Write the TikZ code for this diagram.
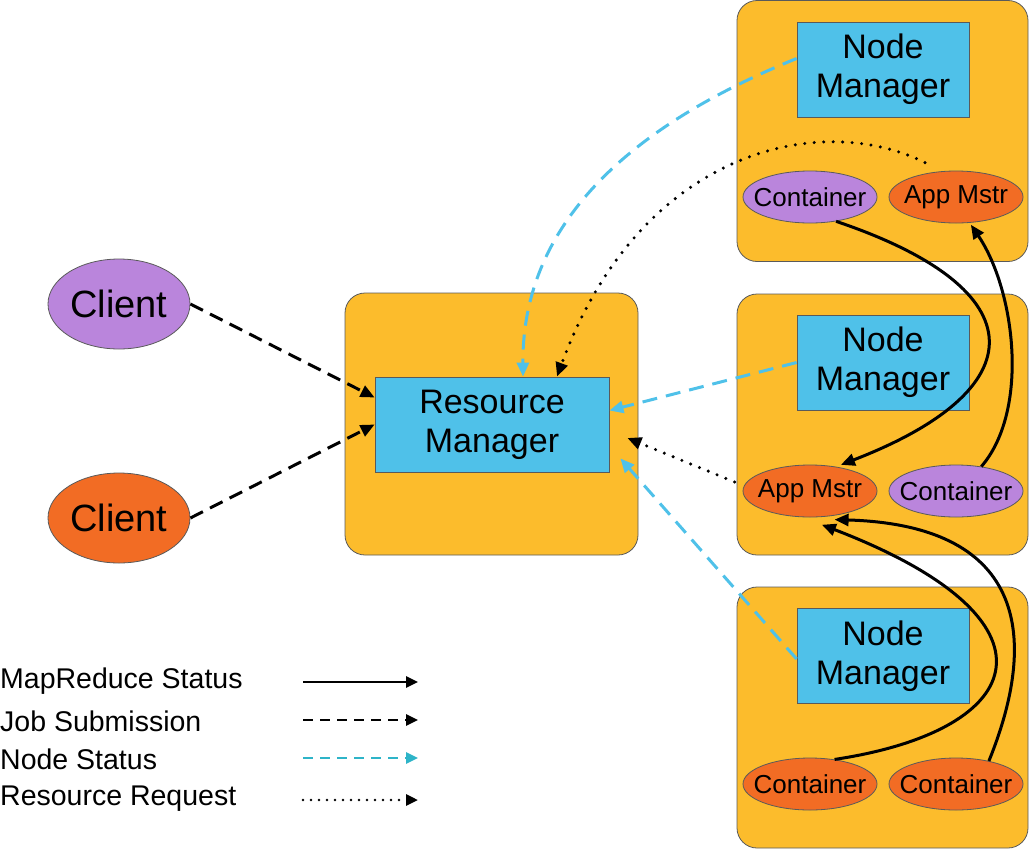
\documentclass[tikz,border=0pt]{standalone}
\usepackage{fontspec}
\setmainfont{Liberation Sans}
\usetikzlibrary{shapes.geometric,arrows.meta,calc}
\definecolor{boxor}{HTML}{FCBC2C}
\definecolor{nmblue}{HTML}{4FC1E9}
\definecolor{purp}{HTML}{BA85DC}
\definecolor{orell}{HTML}{F26C24}
\definecolor{cyanline}{HTML}{4FC1E9}
\definecolor{legcyan}{HTML}{2EB4C8}
\definecolor{edge}{HTML}{5A5A5A}
\tikzset{
  hostbox/.style={draw=edge, line width=0.8pt, fill=boxor, rounded corners=20pt, minimum width=291pt, minimum height=261pt, inner sep=0pt},
  mgrbox/.style={draw=edge, line width=0.8pt, fill=nmblue, minimum width=172pt, minimum height=95pt, inner sep=0pt, align=center, font=\fontsize{34}{39}\selectfont},
  cell/.style={ellipse, draw=edge, line width=0.8pt, minimum width=134pt, minimum height=52pt, inner sep=0pt, font=\fontsize{26}{30}\selectfont},
  clientell/.style={ellipse, draw=edge, line width=0.8pt, minimum width=142pt, minimum height=90pt, inner sep=0pt, font=\fontsize{38}{44}\selectfont},
  tip/.style={-{Triangle[length=14pt,width=12pt]}},
  ltip/.style={-{Triangle[length=12pt,width=11pt]}},
  mrline/.style={tip, line width=3pt, black},
  jobline/.style={tip, line width=3pt, black, dash pattern=on 14pt off 8pt},
  nsline/.style={tip, line width=3pt, cyanline, dash pattern=on 15pt off 9pt},
  rrline/.style={tip, line width=3.4pt, black, line cap=round, dash pattern=on 0pt off 9.5pt},
  legtext/.style={anchor=west, inner sep=0pt, font=\fontsize{28.5}{32}\selectfont},
}
\begin{document}
\begin{tikzpicture}[x=1pt,y=-1pt]
\useasboundingbox (0,0) rectangle (1030,849);
% host boxes
\node[hostbox] (nbox1) at (882.5,131) {};
\node[hostbox] (nbox2) at (882.5,424.5) {};
\node[hostbox] (nbox3) at (882.5,717.5) {};
\node[hostbox, minimum width=293pt, minimum height=262pt] (rmbox) at (491.5,424) {};
% managers
\node[mgrbox] (nm1) at (883,69.5) {Node\\Manager};
\node[mgrbox] (nm2) at (883,362.5) {Node\\Manager};
\node[mgrbox] (nm3) at (883,656) {Node\\Manager};
\node[mgrbox, minimum width=234pt] (rm) at (492,424.5) {Resource\\Manager};
% containers / app masters
\node[cell, fill=purp] (c1a) at (810,197) {\makebox[0pt]{Container}};
\node[cell, fill=orell] (am1) at (956,197) {\makebox[0pt]{App Mstr}};
\node[cell, fill=orell] (am2) at (810,491) {\makebox[0pt]{App Mstr}};
\node[cell, fill=purp] (c2) at (956,491) {\makebox[0pt]{Container}};
\node[cell, fill=orell] (c3a) at (810,784) {\makebox[0pt]{Container}};
\node[cell, fill=orell] (c3b) at (956,784) {\makebox[0pt]{Container}};
% clients
\node[clientell, fill=purp] (cl1) at (119,304) {\makebox[0pt]{Client}};
\node[clientell, fill=orell] (cl2) at (119,518) {\makebox[0pt]{Client}};
% job submission
\draw[jobline] (cl1.east) -- ($(rm.west)+(0,-27)$);
\draw[jobline] (cl2.east) -- (rm.west);
% node status
\draw[nsline] ($(nm1.west)+(0,-11)$) .. controls (620,130) and (522,230) .. ($(rm.north)+(31,0)$);
\draw[nsline] (nm2.west) -- ($(rm.east)+(0,-14)$);
\draw[nsline] ($(nm3.west)+(0,3)$) -- ($(rm.south east)+(11,-14)$);
% resource requests
\draw[rrline] ($(am1.north)+(-31,-8)$) .. controls (820,110) and (640,150) .. ($(rm.north)+(65,0)$);
\draw[rrline] ($(am2.west)+(-8,-9)$) -- ($(rm.east)+(18,13.5)$);
% mapreduce status
\draw[mrline] (c1a.-43) .. controls (1040,290) and (1035,390) .. ($(am2.42)+(4,-2)$);
\draw[mrline] (c2.44) .. controls (1030,410) and (1015,290) .. ($(am1.-60)+(0,2)$);
\draw[mrline] (c3a.45) .. controls (1030,730) and (1070,620) .. ($(am2.-60)+(-3,8)$);
\draw[mrline] (c3b.35) .. controls (1042,630) and (1020,525) .. ($(am2.-45)+(0,4)$);
% legend
\node[legtext] (l1) at (0,681) {MapReduce Status};
\node[legtext] (l2) at (0,721) {Job Submission};
\node[legtext] (l3) at (0,759) {Node Status};
\node[legtext] (l4) at (0,799) {Resource Request};
\coordinate (a1s) at (303,682); \coordinate (a1e) at (418,682);
\coordinate (a2s) at (303,720); \coordinate (a2e) at (418,720);
\coordinate (a3s) at (303,758); \coordinate (a3e) at (418,758);
\coordinate (a4s) at (303,800); \coordinate (a4e) at (418,800);
\draw[ltip, line width=2.6pt, black] (a1s) -- (a1e);
\draw[ltip, line width=2.6pt, black, dash pattern=on 10pt off 7pt] (a2s) -- (a2e);
\draw[ltip, line width=2.6pt, legcyan, dash pattern=on 10pt off 7pt] (a3s) -- (a3e);
\draw[ltip, line width=2.8pt, black, line cap=round, dash pattern=on 0pt off 8pt] (a4s) -- (a4e);
\end{tikzpicture}
\end{document}
